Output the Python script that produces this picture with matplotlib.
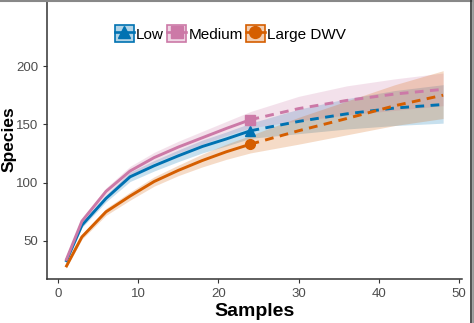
import numpy as np
import matplotlib.pyplot as plt
from matplotlib.lines import Line2D
from matplotlib.patches import Patch

plt.rcParams['font.family'] = ['Liberation Sans', 'DejaVu Sans']

# rarefaction (observed) part
samples_int = [1, 3, 6, 9, 12, 15, 18, 21, 24]
low = [32, 63.5, 86.5, 105, 114.5, 123, 131, 137.5, 144.5]
low_lo = [31, 61.5, 83.5, 101, 110, 118, 125.5, 131.5, 138]
low_hi = [33, 65.5, 89.5, 109, 119, 128, 136.5, 143.5, 151]
medium = [33, 67, 92.5, 110, 121.5, 130.5, 138.5, 146.5, 154]
medium_lo = [32, 65, 89.5, 106, 117, 125.5, 133, 140.5, 147]
medium_hi = [34, 69, 95.5, 114, 126, 135.5, 144, 152.5, 161]
large = [27.5, 53.5, 75, 88.5, 101, 110.5, 119, 126.5, 133]
large_lo = [26.5, 51.5, 72, 85, 97, 106, 113.5, 120, 125.5]
large_hi = [28.5, 55.5, 78, 92, 105, 115, 124.5, 133, 140.5]

# extrapolated part
samples_ext = [24, 30, 36, 42, 48]
low_ext = [144.5, 152.5, 159, 164, 167]
low_ext_lo = [138, 142, 146, 149, 151]
low_ext_hi = [151, 163, 172, 179, 184]
medium_ext = [154, 163.5, 170.5, 176, 180]
medium_ext_lo = [147, 153, 158, 162, 166]
medium_ext_hi = [161, 174, 183, 189, 194]
large_ext = [133, 144.5, 155, 166, 175]
large_ext_lo = [125.5, 133, 141, 149, 155]
large_ext_hi = [140.5, 156, 170, 184, 196]

groups = ['Low', 'Medium', 'Large DWV']
colors = ['#0072B2', '#CC79A7', '#D55E00']
markers = ['^', 's', 'o']

series = [
    (low, low_lo, low_hi, low_ext, low_ext_lo, low_ext_hi),
    (medium, medium_lo, medium_hi, medium_ext, medium_ext_lo, medium_ext_hi),
    (large, large_lo, large_hi, large_ext, large_ext_lo, large_ext_hi),
]

fig = plt.figure(figsize=(4.74, 3.23), dpi=100)
ax = fig.add_axes([47 / 474, 1 - 279 / 323, 415 / 474, 279 / 323])

for (y, lo, hi, ye, elo, ehi), c, m in zip(series, colors, markers):
    ax.fill_between(samples_int, lo, hi, color=c, alpha=0.22, lw=0)
    ax.fill_between(samples_ext, elo, ehi, color=c, alpha=0.22, lw=0)
    ax.plot(samples_int, y, color=c, lw=2.1, solid_capstyle='butt')
    ax.plot(samples_ext, ye, color=c, lw=2.1, ls=(0, (3, 2.2)))
    ax.plot(samples_int[-1], y[-1], marker=m, color=c, ms=7, ls='none')

ax.set_xlim(-1.35, 50.35)
ax.set_ylim(17.4, 256.6)
ax.set_xticks([0, 10, 20, 30, 40, 50])
ax.set_yticks([50, 100, 150, 200])
for s in ['top', 'right']:
    ax.spines[s].set_visible(False)
for s in ['left', 'bottom']:
    ax.spines[s].set_color('#333333')
    ax.spines[s].set_linewidth(1.1)
ax.tick_params(colors='#333333', labelcolor='#4D4D4D', labelsize=9.5, length=3, width=0.8)
ax.set_xlabel('Samples', fontsize=14, fontweight='bold')
ax.set_ylabel('Species', fontsize=12.5, fontweight='bold')
ax.xaxis.set_label_coords(0.5, -0.085)
ax.yaxis.set_label_coords(-0.073, 0.5)

handles = [(Patch(facecolor=c, alpha=0.3, edgecolor='none'),
            Patch(facecolor='none', edgecolor=c, lw=1.2),
            Line2D([], [], color=c, lw=1.9, marker=m, ms=8.5))
           for c, m in zip(colors, markers)]
ax.legend(handles, groups, loc='center left', bbox_to_anchor=(0.163, 0.88),
          ncol=3, frameon=False, fontsize=11, handlelength=1.25, handleheight=1.25,
          handletextpad=0.15, columnspacing=0.2, borderpad=0, borderaxespad=0)

# grey frame of the original image
fig.add_artist(Line2D([0, 1], [0.998, 0.998], color='#888888', lw=1.5, transform=fig.transFigure))
fig.add_artist(Line2D([471 / 474, 471 / 474], [0, 1], color='#333333', lw=1.2, transform=fig.transFigure))
fig.add_artist(Line2D([473 / 474, 473 / 474], [0, 1], color='#999999', lw=2, transform=fig.transFigure))

fig.savefig('out.png', dpi=100)
